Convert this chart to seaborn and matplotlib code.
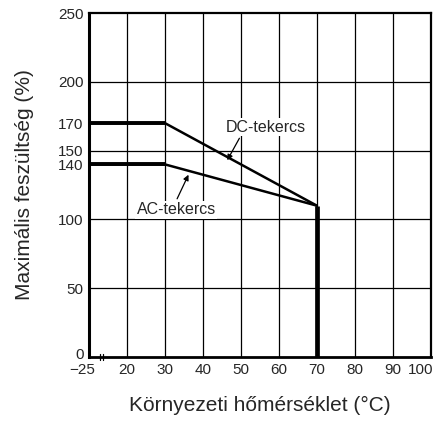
import matplotlib
matplotlib.use('Agg')
import matplotlib.pyplot as plt
import matplotlib.transforms as mtransforms
import seaborn as sns
import pandas as pd

# temperature (display position; 10 stands for the broken -25 start)
temp = [10, 30, 70]
dc_volt = [170, 170, 110]
ac_volt = [140, 140, 110]
cutoff_temp = [70, 70]
cutoff_volt = [110, 0]

x_ticks = [10, 20, 30, 40, 50, 60, 70, 80, 90, 100]
x_labels = ['\u221225', '20', '30', '40', '50', '60', '70', '80', '90', '100']
y_ticks = [0, 50, 100, 140, 150, 170, 200, 250]
grid_y = [50, 100, 150, 200]

sns.set_style("white")
plt.rcParams['font.family'] = ['Liberation Sans', 'DejaVu Sans']

fig = plt.figure(figsize=(4.33, 4.21), dpi=100)
ax = fig.add_axes([0.2055, 0.152, 0.7895, 0.817])

for gx in x_ticks[1:-1]:
    ax.axvline(gx, color='black', lw=0.9, zorder=1)
for gy in grid_y:
    ax.axhline(gy, color='black', lw=0.9, zorder=1)

df = pd.DataFrame({'temp': temp + temp, 'volt': dc_volt + ac_volt,
                   'coil': ['DC'] * 3 + ['AC'] * 3})
sns.lineplot(data=df, x='temp', y='volt', units='coil', estimator=None,
             color='black', lw=1.8, ax=ax, zorder=3)
# thick flat parts
ax.plot(temp[:2], dc_volt[:2], color='black', lw=2.8, zorder=4, solid_capstyle='butt')
ax.plot(temp[:2], ac_volt[:2], color='black', lw=2.8, zorder=4, solid_capstyle='butt')
ax.plot(cutoff_temp, cutoff_volt, color='black', lw=3.4, zorder=4, solid_capstyle='butt')

box = dict(facecolor='white', edgecolor='none', pad=1)
ax.text(56.5, 167, 'DC-tekercs', ha='center', va='center', fontsize=11.5, bbox=box, zorder=5)
ax.text(33, 107, 'AC-tekercs', ha='center', va='center', fontsize=11.5, bbox=box, zorder=5)
arrow = dict(arrowstyle='-|>', color='black', lw=0.9, shrinkA=0, shrinkB=0, mutation_scale=8)
ax.annotate('', xy=(46.4, 143), xytext=(49.6, 159), arrowprops=arrow, zorder=5)
ax.annotate('', xy=(36.2, 132.5), xytext=(33.2, 115), arrowprops=arrow, zorder=5)

# axis break marks
ax.plot([13.0, 13.0], [-2, 2], color='black', lw=0.9, clip_on=False, zorder=5)
ax.plot([13.8, 13.8], [-2, 2], color='black', lw=0.9, clip_on=False, zorder=5)

ax.set_xlim(10, 100)
ax.set_ylim(0, 250)
ax.set_xticks(x_ticks)
ax.set_xticklabels(x_labels)
ax.set_yticks(y_ticks)
ax.tick_params(length=0, labelsize=11)
ax.tick_params(axis='x', pad=4)
ax.tick_params(axis='y', pad=4)

# nudge a few tick labels like the original
xl = ax.get_xticklabels()
xl[0].set_transform(xl[0].get_transform() + mtransforms.ScaledTranslation(-0.07, 0, fig.dpi_scale_trans))
xl[-1].set_transform(xl[-1].get_transform() + mtransforms.ScaledTranslation(-0.1, 0, fig.dpi_scale_trans))
yl = ax.get_yticklabels()
yl[0].set_transform(yl[0].get_transform() + mtransforms.ScaledTranslation(0, 0.04, fig.dpi_scale_trans))

ax.set_xlabel('Környezeti hőmérséklet (°C)', fontsize=15, labelpad=14)
ax.set_ylabel('Maximális feszültség (%)', fontsize=15, labelpad=17)
for s in ax.spines.values():
    s.set_color('black')
    s.set_linewidth(1.6)
ax.spines['left'].set_linewidth(2.2)
ax.spines['bottom'].set_linewidth(2.0)

fig.savefig('out.png', dpi=100)
